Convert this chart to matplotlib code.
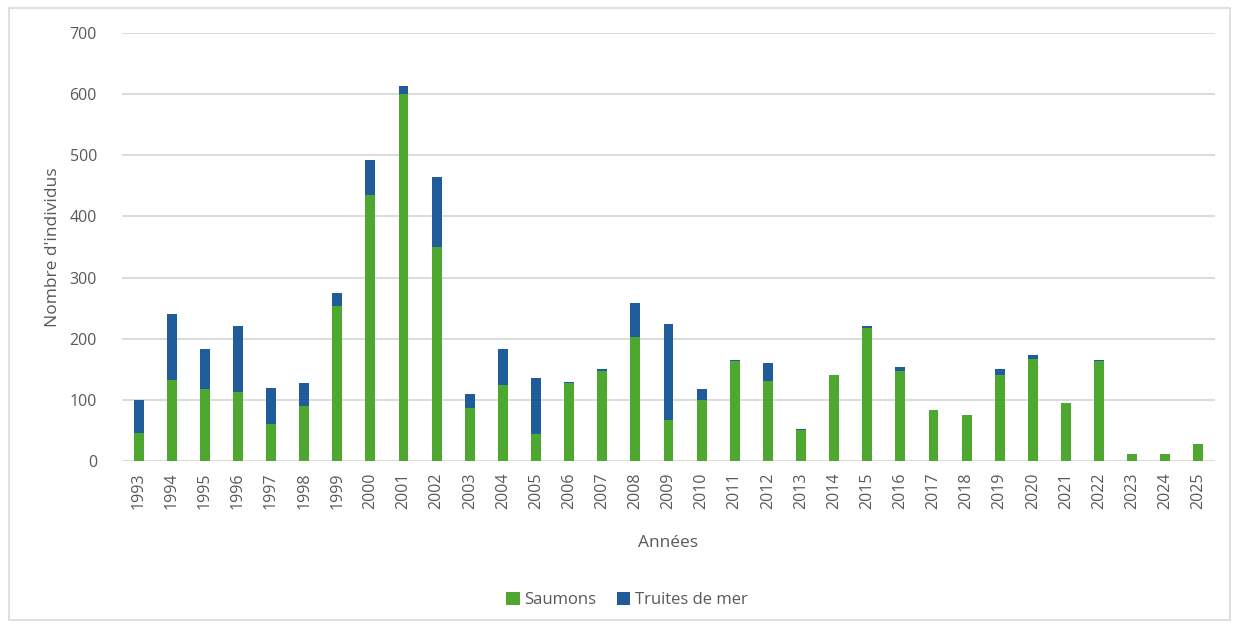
import matplotlib
matplotlib.use("Agg")
import matplotlib.pyplot as plt
from matplotlib.patches import Rectangle

years = [str(y) for y in range(1993, 2026)]
saumons = [45, 133, 117, 113, 61, 90, 254, 435, 600, 350, 86, 125, 44, 127, 148, 203, 67, 100, 163,
           131, 50, 140, 218, 148, 84, 76, 140, 167, 95, 164, 12, 12, 27]
truites = [55, 108, 66, 108, 59, 38, 21, 57, 13, 115, 23, 58, 92, 2, 2, 56, 157, 18, 2,
           29, 2, 0, 3, 5, 0, 0, 11, 6, 0, 1, 0, 0, 0]
yticks = [0, 100, 200, 300, 400, 500, 600, 700]

green = "#4EA72E"
blue = "#1F5C99"
txt = "#595959"

plt.rcParams['font.family'] = ['Open Sans', 'DejaVu Sans']

fig = plt.figure(figsize=(12.39, 6.27), dpi=100)
ax = fig.add_axes([122/1239, 1-461/627, (1215-122)/1239, (461-33)/627])

x = list(range(len(years)))
ax.bar(x, saumons, width=0.3, color=green, label="Saumons", zorder=3)
ax.bar(x, truites, width=0.3, bottom=saumons, color=blue, label="Truites de mer", zorder=3)

ax.set_xlim(-0.5, len(years) - 0.5)
ax.set_ylim(0, 700)
ax.set_yticks(yticks)
ax.set_yticklabels([str(v) for v in yticks], fontsize=11.5, color=txt)
ax.set_xticks(x)
ax.set_xticklabels(years, rotation=90, fontsize=11.5, color=txt)
ax.tick_params(axis='both', length=0, pad=8)
ax.tick_params(axis='y', pad=18)
ax.yaxis.grid(True, color="#D9D9D9", linewidth=1.3, zorder=0)
for s in ax.spines.values():
    s.set_visible(False)

ax.set_ylabel("Nombre d'individus", fontsize=12.5, color=txt, labelpad=6)
ax.set_xlabel("Années", fontsize=12.5, color=txt, labelpad=19)

leg = fig.legend(loc="center", bbox_to_anchor=(627/1239, 1-600/627), ncol=2, frameon=False,
                 fontsize=12, handlelength=0.8, handleheight=0.8, columnspacing=1.2, handletextpad=0.3)
for t in leg.get_texts():
    t.set_color(txt)

fig.patches.append(Rectangle((9/1239, 1-620/627), (1230-9)/1239, (620-8)/627, transform=fig.transFigure,
                             fill=False, edgecolor="#D9D9D9", linewidth=1.2))

fig.savefig("out.png", dpi=100, facecolor="white")
